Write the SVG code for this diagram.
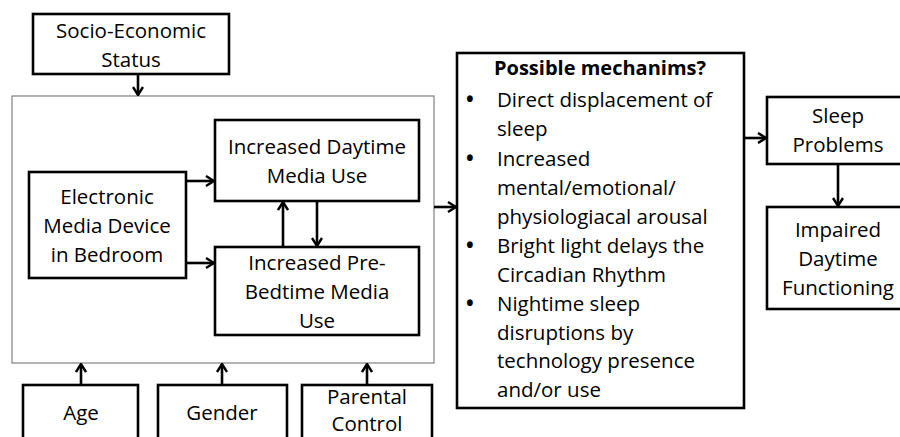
<svg xmlns="http://www.w3.org/2000/svg" width="900" height="437" viewBox="0 0 900 437">
  <style>
    .box { fill: #ffffff; stroke: #000000; stroke-width: 2.6; }
    .frame { fill: #ffffff; stroke: #808080; stroke-width: 1.2; }
    .lbl { font-family: "Open Sans", "Noto Sans", "Liberation Sans", sans-serif; font-size: 20.5px; fill: #000000; text-anchor: middle; }
    .item { font-family: "Open Sans", "Noto Sans", "Liberation Sans", sans-serif; font-size: 20.5px; fill: #000000; }
    .head { font-weight: bold; font-size: 20px; }
    .dot { font-weight: bold; }
    .conn { fill: none; stroke: #000000; stroke-width: 2.6; marker-end: url(#arrow); }
  </style>
  <defs>
    <marker id="arrow" viewBox="0 0 10 12" refX="9" refY="6" markerWidth="10" markerHeight="12" markerUnits="userSpaceOnUse" orient="auto">
      <path d="M1,1 L9,6 L1,11" fill="none" stroke="#000000" stroke-width="2.4"/>
    </marker>
  </defs>

  <rect width="900" height="437" fill="#ffffff"/>

  <!-- outer frame around the media-use block -->
  <rect id="frame" class="frame" x="12" y="96" width="422" height="267"/>

  <g id="ses">
    <rect class="box" x="33" y="14" width="196" height="60"/>
    <text class="lbl" x="131" y="38">Socio-Economic</text>
    <text class="lbl" x="131" y="67">Status</text>
  </g>

  <g id="daytime">
    <rect class="box" x="215" y="120" width="204" height="81"/>
    <text class="lbl" x="317" y="154">Increased Daytime</text>
    <text class="lbl" x="317" y="183">Media Use</text>
  </g>

  <g id="device">
    <rect class="box" x="29" y="172" width="157" height="106"/>
    <text class="lbl" x="107" y="204">Electronic</text>
    <text class="lbl" x="107" y="233">Media Device</text>
    <text class="lbl" x="107" y="262">in Bedroom</text>
  </g>

  <g id="prebed">
    <rect class="box" x="215" y="247" width="204" height="88"/>
    <text class="lbl" x="317" y="270">Increased Pre-</text>
    <text class="lbl" x="317" y="299">Bedtime Media</text>
    <text class="lbl" x="317" y="328">Use</text>
  </g>

  <g id="age">
    <rect class="box" x="23" y="385" width="115" height="70"/>
    <text class="lbl" x="81" y="420">Age</text>
  </g>

  <g id="gender">
    <rect class="box" x="158" y="385" width="129" height="70"/>
    <text class="lbl" x="222" y="420">Gender</text>
  </g>

  <g id="parental">
    <rect class="box" x="302" y="385" width="130" height="70"/>
    <text class="lbl" x="367" y="404">Parental</text>
    <text class="lbl" x="367" y="431">Control</text>
  </g>

  <g id="mechanisms">
    <rect class="box" x="457" y="53" width="287" height="355"/>
    <text class="lbl head" x="600" y="75">Possible mechanims?</text>
    <text class="item dot" x="466" y="107">•</text>
    <text class="item" x="497" y="107">Direct displacement of</text>
    <text class="item" x="497" y="136">sleep</text>
    <text class="item dot" x="466" y="166">•</text>
    <text class="item" x="497" y="166">Increased</text>
    <text class="item" x="497" y="195">mental/emotional/</text>
    <text class="item" x="497" y="224">physiologiacal arousal</text>
    <text class="item dot" x="466" y="253">•</text>
    <text class="item" x="497" y="253">Bright light delays the</text>
    <text class="item" x="497" y="282">Circadian Rhythm</text>
    <text class="item dot" x="466" y="311">•</text>
    <text class="item" x="497" y="311">Nightime sleep</text>
    <text class="item" x="497" y="340">disruptions by</text>
    <text class="item" x="497" y="368">technology presence</text>
    <text class="item" x="497" y="397">and/or use</text>
  </g>

  <g id="sleep">
    <rect class="box" x="767" y="97" width="145" height="67"/>
    <text class="lbl" x="838" y="123">Sleep</text>
    <text class="lbl" x="838" y="152">Problems</text>
  </g>

  <g id="impaired">
    <rect class="box" x="767" y="207" width="145" height="102"/>
    <text class="lbl" x="838" y="237">Impaired</text>
    <text class="lbl" x="838" y="266">Daytime</text>
    <text class="lbl" x="838" y="295">Functioning</text>
  </g>

  <g id="connectors">
    <line class="conn" x1="138" y1="74" x2="138" y2="95"/>
    <line class="conn" x1="186" y1="181" x2="214" y2="181"/>
    <line class="conn" x1="186" y1="263" x2="214" y2="263"/>
    <line class="conn" x1="283" y1="247" x2="283" y2="202"/>
    <line class="conn" x1="317" y1="201" x2="317" y2="246"/>
    <line class="conn" x1="434" y1="207" x2="456" y2="207"/>
    <line class="conn" x1="744" y1="138" x2="766" y2="138"/>
    <line class="conn" x1="838" y1="164" x2="838" y2="206"/>
    <line class="conn" x1="81" y1="385" x2="81" y2="364"/>
    <line class="conn" x1="222" y1="385" x2="222" y2="364"/>
    <line class="conn" x1="367" y1="385" x2="367" y2="364"/>
  </g>
</svg>
